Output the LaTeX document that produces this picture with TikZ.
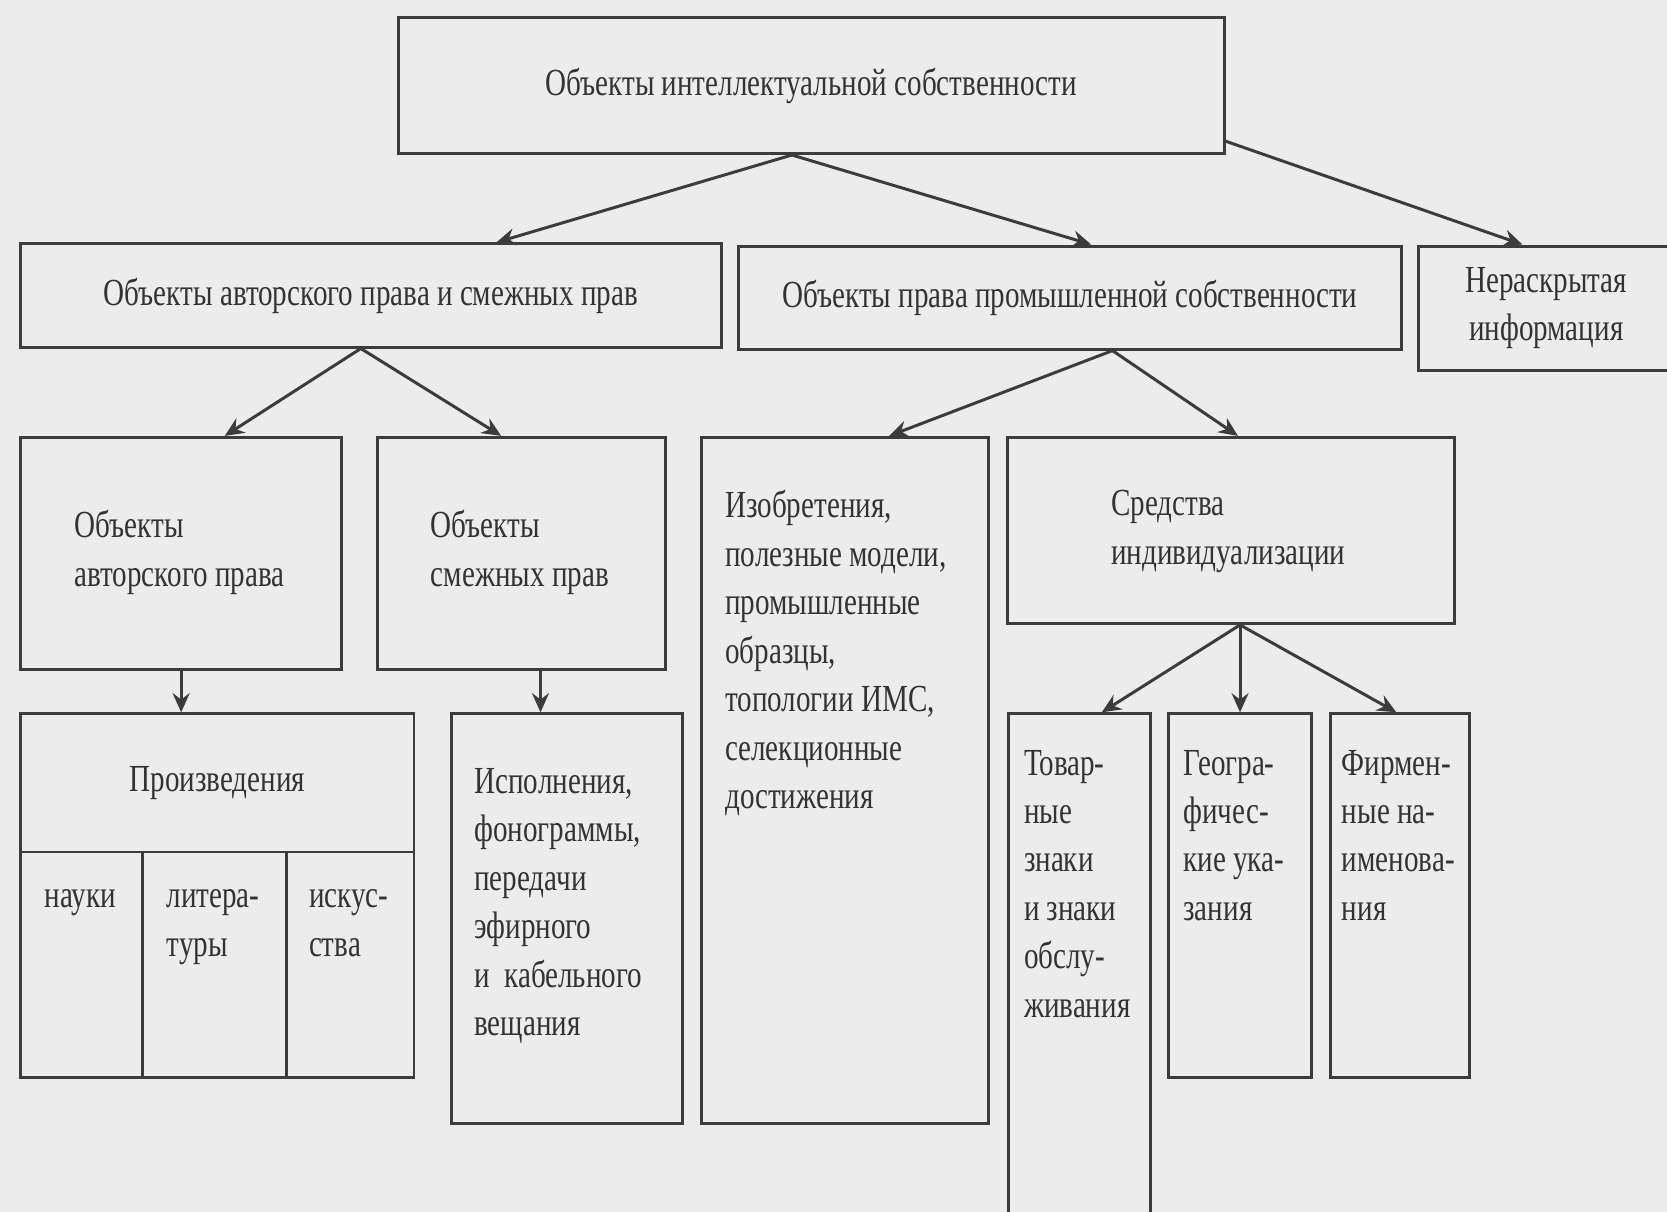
\documentclass[tikz,border=0pt]{standalone}
\usepackage{fontspec}
\setmainfont[FakeStretch=0.76]{Liberation Serif}
\usetikzlibrary{arrows.meta,calc}
\definecolor{bg}{HTML}{ECECEC}
\definecolor{ln}{HTML}{3C3C3C}
\definecolor{tx}{HTML}{333333}
\begin{document}
\begin{tikzpicture}[x=1pt,y=-1pt,
  font=\fontsize{36}{45.6}\selectfont,
  box/.style={draw=ln, line width=2.8pt, inner sep=0pt, text=tx, anchor=north west},
  txt/.style={text=tx, inner sep=0pt, align=left, anchor=base west},
  arr/.style={draw=ln, line width=2.8pt, -{Stealth[length=18pt,width=16pt,inset=6pt]}}]
\fill[bg] (0,0) rectangle (1568,1140);
\useasboundingbox (0,0) rectangle (1568,1140);
% level 1
\node[box, minimum width=777pt, minimum height=128pt] (top) at (373,15) {Объекты интеллектуальной собственности};
% level 2
\node[box, minimum width=659pt, minimum height=97pt] (acr) at (18,228) {Объекты авторского права и смежных прав};
\node[box, minimum width=624pt, minimum height=97pt] (ind) at (693,230) {Объекты права промышленной собственности};
\node[box, minimum width=240pt, minimum height=117pt, align=center] (und) at (1333,230) {Нераскрытая\\информация};
% level 3 (text nodes: base = baseline of last line)
\node[box, minimum width=302pt, minimum height=218pt] (ca) at (18,410) {};
\node[txt] (cat) at (70,551.6) {Объекты\\авторского права};
\node[box, minimum width=271pt, minimum height=218pt] (ra) at (354,410) {};
\node[txt] (rat) at (405,551.6) {Объекты\\смежных прав};
\node[box, minimum width=270pt, minimum height=645pt] (inv) at (658,410) {};
\node[txt] (invt) at (682,760.6) {Изобретения,\\полезные модели,\\промышленные\\образцы,\\топологии ИМС,\\селекционные\\достижения};
\node[box, minimum width=421pt, minimum height=175pt] (sr) at (946,410) {};
\node[txt] (srt) at (1045,530.6) {Средства\\индивидуализации};
% level 4
\node[box, minimum width=370pt, minimum height=130pt] (wh) at (18,670) {Произведения};
\node[box, minimum width=115pt, minimum height=212pt] (c1) at (18,800) {};
\node[box, minimum width=135pt, minimum height=212pt] (c2) at (133,800) {};
\node[box, minimum width=120pt, minimum height=212pt] (c3) at (268,800) {};
\node[txt, anchor=base] (c1t) at (75.5,854) {науки};
\node[txt, anchor=base] (c2t) at (200.5,899.6) {литера-\\туры};
\node[txt, anchor=base] (c3t) at (328,899.6) {искус-\\ства};
\node[box, minimum width=218pt, minimum height=385pt] (isp) at (423,670) {};
\node[txt] (ispt) at (446,974) {Исполнения,\\фонограммы,\\передачи\\эфирного\\и\ \ кабельного\\вещания};
\node[box, minimum width=134pt, minimum height=480pt] (tz) at (947,670) {};
\node[txt] (tzt) at (963,957) {Товар-\\ные\\знаки\\и знаки\\обслу-\\живания};
\node[box, minimum width=134pt, minimum height=342pt] (geo) at (1098,670) {};
\node[txt] (geot) at (1113,865.8) {Геогра-\\фичес-\\кие ука-\\зания};
\node[box, minimum width=131pt, minimum height=342pt] (firm) at (1250,670) {};
\node[txt] (firmt) at (1262,865.8) {Фирмен-\\ные на-\\именова-\\ния};
% arrows
\draw[arr] ([xshift=-18pt]top.south) -- ([xshift=118pt]acr.north);
\draw[arr] ([xshift=-18pt]top.south) -- ([xshift=20pt]ind.north);
\draw[arr] ([yshift=13pt]top.south east) -- ([xshift=99pt]und.north west);
\draw[arr] ([xshift=-9.5pt]acr.south) -- ([xshift=41pt]ca.north);
\draw[arr] ([xshift=-9.5pt]acr.south) -- ([xshift=-19.5pt]ra.north);
\draw[arr] ([xshift=40pt]ind.south) -- ([xshift=42pt]inv.north);
\draw[arr] ([xshift=40pt]ind.south) -- ([xshift=6.5pt]sr.north);
\draw[arr] (ca.south) -- (ca.south |- wh.north);
\draw[arr] ([xshift=17.5pt]ra.south) -- ([xshift=17.5pt]ra.south |- isp.north);
\draw[arr] ([xshift=8.5pt]sr.south) -- ([xshift=21pt]tz.north);
\draw[arr] ([xshift=8.5pt]sr.south) -- (geo.north);
\draw[arr] ([xshift=8.5pt]sr.south) -- ([xshift=-3.5pt]firm.north);
\end{tikzpicture}
\end{document}
